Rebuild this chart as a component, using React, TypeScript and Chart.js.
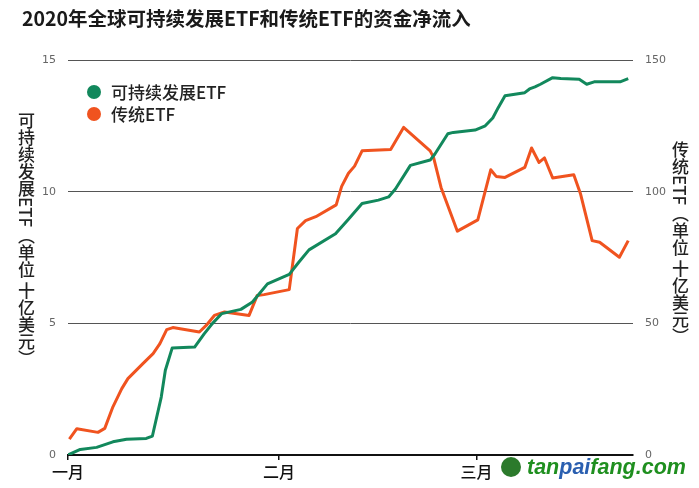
import React, { useEffect, useRef } from 'react';
import { Chart, registerables } from 'chart.js';

Chart.register(...registerables);

// ---- data ----
const monthTicks = [0, 31, 60];
const monthLabels = ['一月', '二月', '三月'];
const leftTicks = [0, 5, 10, 15];
const rightTicks = [0, 50, 100, 150];

const seriesNames = ['可持续发展ETF', '传统ETF'];

const greenDays = [0, 1.8, 4.2, 6.6, 7.4, 8.6, 11.5, 12.4, 13.7, 14.3, 15.3, 18.6, 20.0, 21.2, 22.6, 25.4, 27.1, 29.3, 32.5, 33.9, 35.4, 39.3, 41.2, 43.2, 45.6, 47.1, 48.1, 50.3, 53.2, 53.9, 55.8, 56.6, 59.8, 61.3, 62.4, 63.2, 64.2, 67.1, 67.8, 68.6, 69.4, 71.2, 72.4, 75.1, 76.2, 77.3, 81.1, 82.3];
const greenValues = [0, 0.21, 0.29, 0.5, 0.54, 0.6, 0.63, 0.72, 2.2, 3.22, 4.06, 4.1, 4.6, 4.99, 5.37, 5.53, 5.81, 6.5, 6.86, 7.32, 7.79, 8.4, 8.95, 9.55, 9.68, 9.8, 10.1, 11.0, 11.2, 11.43, 12.2, 12.25, 12.34, 12.5, 12.8, 13.19, 13.64, 13.76, 13.9, 13.98, 14.08, 14.33, 14.3, 14.27, 14.08, 14.17, 14.17, 14.29];

const orangeDays = [0.2, 1.3, 4.4, 5.4, 6.6, 7.9, 8.8, 11.0, 12.5, 13.5, 14.5, 15.4, 19.3, 20.3, 21.5, 23.0, 26.6, 27.8, 28.8, 32.5, 33.7, 34.9, 36.4, 39.4, 40.2, 41.2, 42.1, 43.2, 47.4, 49.3, 53.2, 53.7, 54.8, 57.2, 60.2, 62.1, 62.9, 64.2, 67.1, 68.1, 69.2, 70.0, 71.2, 74.3, 75.3, 77.0, 78.1, 81.0, 82.3];
const orangeValues = [6, 10, 8.6, 10.1, 18.3, 25.2, 29, 34.7, 38.5, 42.3, 47.6, 48.4, 46.7, 49.2, 53, 54.3, 53, 60.6, 60.9, 62.8, 86, 89, 90.5, 95, 102, 107, 109.7, 115.5, 116, 124.4, 115.5, 113, 101.6, 85, 89.3, 108.3, 105.8, 105.4, 109.2, 116.6, 111.1, 112.8, 105.2, 106.4, 99.1, 81.4, 80.8, 75.1, 81.4];

const GREEN = '#12885c';
const ORANGE = '#f0531f';
const CJK = '"Noto Sans CJK SC", "Noto Sans", sans-serif';

export default function App() {
  const canvasRef = useRef<HTMLCanvasElement | null>(null);

  useEffect(() => {
    const canvas = canvasRef.current;
    if (!canvas) return;
    const chart = new Chart(canvas, {
      type: 'line',
      data: {
        datasets: [
          {
            label: seriesNames[0],
            data: greenDays.map((d, i) => ({ x: d, y: greenValues[i] })),
            borderColor: GREEN,
            backgroundColor: GREEN,
            borderWidth: 3,
            pointRadius: 0,
            tension: 0,
            borderJoinStyle: 'round',
            yAxisID: 'yL',
          },
          {
            label: seriesNames[1],
            data: orangeDays.map((d, i) => ({ x: d, y: orangeValues[i] })),
            borderColor: ORANGE,
            backgroundColor: ORANGE,
            borderWidth: 3,
            pointRadius: 0,
            tension: 0,
            borderJoinStyle: 'round',
            yAxisID: 'yR',
          },
        ],
      },
      options: {
        animation: false,
        responsive: false,
        devicePixelRatio: 1,
        layout: { padding: { top: 60, left: 0, right: 0, bottom: 0 } },
        plugins: {
          legend: { display: false },
          title: { display: false },
          tooltip: { enabled: false },
        },
        scales: {
          x: {
            type: 'linear',
            position: 'bottom',
            min: 0,
            max: 83,
            afterFit: (s: any) => { s.height = 33; },
            afterBuildTicks: (s: any) => { s.ticks = monthTicks.map((v) => ({ value: v })); },
            ticks: {
              autoSkip: false,
              maxRotation: 0,
              color: '#111',
              padding: 2,
              font: { family: CJK, size: 16, weight: '500' },
              callback: (v: any) => monthLabels[monthTicks.indexOf(Number(v))] ?? '',
            },
            grid: { drawOnChartArea: false, drawTicks: true, tickLength: 5, color: '#111', lineWidth: 1.5 },
            border: { display: true, color: '#111', width: 2 },
          },
          yL: {
            type: 'linear',
            position: 'left',
            min: 0,
            max: 15,
            afterFit: (s: any) => { s.width = 68; },
            afterBuildTicks: (s: any) => { s.ticks = leftTicks.map((v) => ({ value: v })); },
            ticks: { color: '#666', padding: 12, font: { family: '"DejaVu Sans", sans-serif', size: 11 } },
            grid: {
              drawTicks: false,
              lineWidth: 1,
              color: (ctx: any) => (ctx.tick && ctx.tick.value === 0 ? 'rgba(0,0,0,0)' : '#555'),
            },
            border: { display: false },
          },
          yR: {
            type: 'linear',
            position: 'right',
            min: 0,
            max: 150,
            afterFit: (s: any) => { s.width = 66; },
            afterBuildTicks: (s: any) => { s.ticks = rightTicks.map((v) => ({ value: v })); },
            ticks: { color: '#666', padding: 12, font: { family: '"DejaVu Sans", sans-serif', size: 11 } },
            grid: { display: false, drawTicks: false },
            border: { display: false },
          },
        },
      } as any,
    });
    return () => chart.destroy();
  }, []);

  const vTitle: React.CSSProperties = {
    position: 'absolute',
    writingMode: 'vertical-rl',
    fontFamily: CJK,
    fontSize: 17,
    lineHeight: '17px',
    fontWeight: 500,
    color: '#222',
    whiteSpace: 'nowrap',
  };

  return (
    <div style={{ position: 'fixed', left: 0, top: 0, width: 699, height: 488, background: '#fff', overflow: 'hidden' }}>
      <canvas ref={canvasRef} width={699} height={488} style={{ position: 'absolute', left: 0, top: 0, width: 699, height: 488 }} />
      <div style={{ position: 'absolute', left: 22, top: 6, fontFamily: CJK, fontSize: 19.5, fontWeight: 700, color: '#1a1a1a', whiteSpace: 'nowrap', lineHeight: '24px' }}>
        2020年全球可持续发展ETF和传统ETF的资金净流入
      </div>
      {/* legend */}
      {seriesNames.map((name, i) => (
        <div key={name} style={{ position: 'absolute', left: 87, top: 81 + i * 22, height: 22, display: 'flex', alignItems: 'center', whiteSpace: 'nowrap' }}>
          <span style={{ display: 'inline-block', width: 14, height: 14, borderRadius: 7, background: i === 0 ? GREEN : ORANGE, marginRight: 10 }} />
          <span style={{ fontFamily: CJK, fontSize: 17, fontWeight: 500, color: '#222', lineHeight: '22px' }}>{name}</span>
        </div>
      ))}
      {/* axis titles */}
      <div style={{ ...vTitle, left: 18, top: 112 }}>可持续发展ETF（单位 十亿美元）</div>
      <div style={{ ...vTitle, left: 672, top: 141 }}>传统ETF（单位 十亿美元）</div>
      {/* watermark */}
      <div style={{ position: 'absolute', left: 501, top: 457, width: 20, height: 20, borderRadius: 10, background: '#2c7a2c' }} />
      <div style={{ position: 'absolute', left: 527, top: 454, fontFamily: '"Liberation Sans", Arial, sans-serif', fontSize: 21.5, fontWeight: 700, fontStyle: 'italic', color: '#1f8f1f', whiteSpace: 'nowrap', lineHeight: '26px' }}>
        tan<span style={{ color: '#2a5fb0' }}>pai</span>fang.com
      </div>
    </div>
  );
}
